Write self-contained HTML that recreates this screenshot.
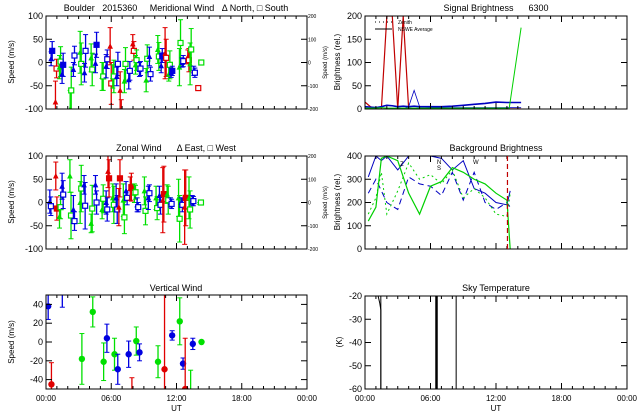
<!DOCTYPE html>
<html><head><meta charset="utf-8"><style>
html,body{margin:0;padding:0;background:#fff;width:640px;height:420px;overflow:hidden}
svg{display:block;position:absolute;left:0;top:0;overflow:hidden;font-family:"Liberation Sans",sans-serif}
text{white-space:pre}
</style></head><body>
<svg id="c" width="640" height="420" viewBox="0 0 640 420"></svg>
<script>
// ---------- data ----------
const merT   = [0.52,0.92,1.29,1.53,2.27,2.57,3.19,3.59,4.2,4.6,5.21,5.58,5.95,6.19,6.56,6.87,7.26,7.66,8.03,8.28,8.64,9.26,9.56,10.33,10.64,11.0,11.34,11.56,12.32,12.57,13.09,13.3,13.64];
const merCol = ['b','r','g','b','g','b','g','b','g','b','g','b','r','g','b','r','g','b','r','g','b','g','b','g','b','r','g','b','g','b','r','g','b'];
const merN   = [8,-85,-10,-25,-100,-15,22,-22,10,-2,-30,-8,35,-30,-30,-60,-40,-37,40,-5,-15,-38,13,28,-7,20,-25,-22,-10,0,12,-3,-18];
const merNe  = [15,45,25,20,40,15,45,20,30,20,30,25,40,25,20,40,25,20,20,20,15,25,20,30,15,55,15,10,40,10,15,45,10];
const merS   = [25,-13,2,-5,-60,15,-3,25,-15,38,-30,7,-45,-30,-3,-110,-3,-18,25,5,-13,8,-25,13,15,10,-5,-18,42,3,5,28,-22];
const merSe  = [20,20,32,25,50,20,45,35,35,27,30,20,45,35,25,30,35,20,20,22,15,30,15,30,15,40,30,10,50,12,25,45,10];
const merXT  = [14.0,14.28]; const merXV=[-55,0]; const merXC=['r','g'];
const zonT   = [0.4,0.95,1.29,1.53,2.25,2.57,3.19,3.55,4.2,4.6,5.21,5.58,5.75,6.19,6.5,6.75,7.16,7.41,7.8,8.18,8.43,9.1,9.46,10.17,10.48,10.79,11.19,11.5,12.24,12.49,12.8,13.2,13.5,14.2];
const zonCol = ['b','r','g','b','g','b','g','b','g','b','g','b','r','g','b','r','g','b','r','g','b','g','b','g','b','r','g','b','g','b','r','g','b','g'];
const zonE   = [2,57,-30,35,57,-15,0,38,-45,38,-15,0,67,10,10,-10,5,25,30,20,-5,25,10,10,15,5,18,0,10,0,-10,10,5,0];
const zonEe  = [25,30,25,28,35,30,45,20,20,20,20,25,35,30,30,40,35,20,25,20,15,30,25,25,20,70,20,10,40,10,80,45,10,0];
const zonW   = [-8,-13,-10,17,-28,-40,30,-7,-13,0,8,-15,52,-5,-15,52,-32,10,33,22,-10,-18,20,-12,-5,18,5,-3,-35,-5,10,-15,3,0];
const zonWe  = [20,25,25,30,50,20,50,50,50,25,30,25,40,40,30,40,35,15,30,15,10,30,18,25,20,60,30,10,50,15,60,40,10,0];
const verT   = [0.2,0.5,1.5,3.3,4.3,5.3,5.6,6.3,6.6,7.6,7.9,8.3,8.6,10.3,10.9,11.6,12.3,12.6,12.8,13.3,13.5,14.3];
const verV   = [38,-45,55,-18,32,-21,4,-13,-29,-13,-60,1,-11,-21,-29,7,22,-23,-50,-60,-2,0];
const verE   = [14,23,18,27,16,20,15,17,16,14,22,15,9,17,80,5,25,6,54,30,6,0];
const verCol = ['b','r','b','g','g','g','b','g','b','b','r','g','b','g','r','b','g','b','r','g','b','g'];
const sigT   = [0,0.5,1,1.5,2,2.5,3,3.5,4,4.5,5,6,7,8,9,10,11,12,13,13.2,14.3];
const sigRed = [15,5,0,0,200,200,0,0,0,0,0,0,0,0,0,0,0,0,0,0,0];
const sigRed2= [0,0,0,0,0,0,0,200,0,0,0,0,0,0,0,0,0,0,0,0,0];
const sigBlue= [5,4,3,5,8,7,5,6,5,6,5,5,5,6,8,10,12,15,14,14,14];
const sigBlue2=[0,0,0,0,0,0,0,0,5,40,5,3,3,3,3,3,3,3,3,3,3];
const sigGreen=[2,2,2,3,2,2,2,2,2,2,2,2,2,2,2,2,2,2,2,0,175];
const bgT    = [0.3,1,1.5,2,3,4,5,6,7,8,9,10,11,12,13,13.3];
const bgA    = [310,400,380,400,340,400,400,400,390,340,380,260,240,200,190,250];
const bgB    = [240,300,250,200,170,310,280,270,230,330,210,330,200,170,200,180];
const bgC    = [120,180,390,400,380,240,150,270,290,350,330,300,280,240,210,0];
const bgD    = [150,220,330,150,250,370,300,320,280,340,220,260,220,150,140,240];
const skyX   = [1.45,6.55,8.35];
// ---------- helpers ----------
const svg=document.getElementById('c');const NS='http://www.w3.org/2000/svg';
const COL={r:'#e00000',g:'#00e000',b:'#0000e0'};
function el(tag,attrs,parent){const e=document.createElementNS(NS,tag);for(const k in attrs)e.setAttribute(k,attrs[k]);(parent||svg).appendChild(e);return e;}
function txt(x,y,s,size,anchor,rot){const e=el('text',{x:x,y:y,'font-size':size,'text-anchor':anchor||'middle',fill:'#000'});if(rot)e.setAttribute('transform','rotate(-90 '+x+' '+y+')');e.textContent=s;return e;}
function panel(name,x0,x1,y0,y1,ymin,ymax){
  const g=el('g',{});
  const clip=el('clipPath',{id:'cl-'+name},g);el('rect',{x:x0,y:y0,width:x1-x0,height:y1-y0},clip);
  const p={g:g,x:h=>x0+(h/24)*(x1-x0),y:v=>y1-(v-ymin)/(ymax-ymin)*(y1-y0),x0,x1,y0,y1,
    d:el('g',{'clip-path':'url(#cl-'+name+')'},g)};
  el('rect',{x:x0,y:y0,width:x1-x0,height:y1-y0,fill:'none',stroke:'#000','stroke-width':1},g);
  for(let h=0;h<=24;h++){const xx=p.x(h);const L=h%6==0?6:3;
    el('line',{x1:xx,x2:xx,y1:y1,y2:y1-L,stroke:'#000'},g);el('line',{x1:xx,x2:xx,y1:y0,y2:y0+L,stroke:'#000'},g);}
  return p;}
function yticks(p,vals){vals.forEach(v=>{const yy=p.y(v);
  el('line',{x1:p.x0,x2:p.x0+6,y1:yy,y2:yy,stroke:'#000'},p.g);el('line',{x1:p.x1,x2:p.x1-6,y1:yy,y2:yy,stroke:'#000'},p.g);
  const t=txt(p.x0-3,yy+3,String(v),9,'end');});}
function rightAxis(p,vals){vals.forEach(v=>{const yy=p.y(v/2);const t=txt(p.x1+1,yy+2,String(v),5,'start');});
  const a=txt(p.x1+20,(p.y0+p.y1)/2,'Speed (m/s)',6,'middle',true);}
function xlabels(p){['00:00','06:00','12:00','18:00','00:00'].forEach((s,i)=>{const t=txt(p.x(i*6),p.y1+12,s,8,'middle');});
  const u=txt((p.x0+p.x1)/2,p.y1+22,'UT',8);}
function errbar(p,t,v,e,c){const xx=p.x(t),a=p.y(v+e),b=p.y(v-e);
  const l=el('line',{x1:xx,x2:xx,y1:a,y2:b,stroke:c,'stroke-width':1.3},p.d);
  
  el('line',{x1:xx-2.5,x2:xx+2.5,y1:a,y2:a,stroke:c},p.d);el('line',{x1:xx-2.5,x2:xx+2.5,y1:b,y2:b,stroke:c},p.d);}
function sq(p,t,v,c,fill){const r=el('rect',{x:p.x(t)-2.5,y:p.y(v)-2.5,width:5,height:5,fill:fill?c:'#fff',stroke:c,'stroke-width':1.2},p.d);
  }
function tri(p,t,v,c){const x=p.x(t),y=p.y(v);const r=el('polygon',{points:(x-2)+','+(y+2)+' '+(x+2)+','+(y+2)+' '+x+','+(y-2),fill:c,stroke:c},p.d);
  }
function line(p,T,V,c,dash,w,name){const pts=T.map((t,i)=>p.x(t)+','+p.y(V[i])).join(' ');
  const l=el('polyline',{points:pts,fill:'none',stroke:c,'stroke-width':w||1},p.d);if(dash)l.setAttribute('stroke-dasharray',dash);
  }
// ---------- meridional ----------
const P1=panel('meridional-wind-panel',46,307,16,109,-100,100);
yticks(P1,[100,50,0,-50,-100]);rightAxis(P1,[200,100,0,-100,-200]);
let t1=txt(176,11,'Boulder   2015360     Meridional Wind   \u0394 North, \u25A1 South',9);
let a1=txt(14,62,'Speed (m/s)',8,'middle',true);
merT.forEach((t,i)=>{const c=COL[merCol[i]];errbar(P1,t-0.05,merN[i],merNe[i],c);tri(P1,t-0.05,merN[i],c);errbar(P1,t+0.05,merS[i],merSe[i],c);sq(P1,t+0.05,merS[i],c,merCol[i]=='b'&&i%3==0);});
merXT.forEach((t,i)=>sq(P1,t,merXV[i],COL[merXC[i]],false));
// ---------- zonal ----------
const P2=panel('zonal-wind-panel',46,307,156,249,-100,100);
yticks(P2,[100,50,0,-50,-100]);rightAxis(P2,[200,100,0,-100,-200]);
let t2=txt(176,151,'Zonal Wind      \u0394 East, \u25A1 West',9);
let a2=txt(14,202,'Speed (m/s)',8,'middle',true);
zonT.forEach((t,i)=>{const c=COL[zonCol[i]];errbar(P2,t-0.05,zonE[i],zonEe[i],c);tri(P2,t-0.05,zonE[i],c);errbar(P2,t+0.05,zonW[i],zonWe[i],c);sq(P2,t+0.05,zonW[i],c,zonCol[i]=='r');});
// ---------- vertical ----------
const P3=panel('vertical-wind-panel',46,307,295,389,-50,50);
yticks(P3,[40,20,0,-20,-40]);xlabels(P3);
let t3=txt(176,291,'Vertical Wind',9);
let a3=txt(14,342,'Speed (m/s)',8,'middle',true);
verT.forEach((t,i)=>{const c=COL[verCol[i]];errbar(P3,t,verV[i],verE[i],c);const d=el('circle',{cx:P3.x(t),cy:P3.y(verV[i]),r:3.2,fill:c},P3.d);});
// ---------- signal ----------
const P4=panel('signal-brightness-panel',365,627,16,109,0,200);
yticks(P4,[200,150,100,50,0]);
let t4=txt(496,11,'Signal Brightness      6300',9);
let a4=txt(340,62,'Brightness (rel.)',8,'middle',true);
line(P4,sigT,sigRed,'#c00000',null,1.2,'signal-red-line');line(P4,sigT,sigRed2,'#c00000',null,1.2,'signal-red-line-2');
line(P4,sigT,sigBlue,'#0000c0',null,1.6,'signal-blue-line');line(P4,sigT,sigBlue2,'#0000c0',null,0.8,'signal-blue-line-2');
line(P4,sigT,sigGreen,'#00d000',null,1,'signal-green-line');
el('line',{x1:375,x2:392,y1:22,y2:22,stroke:'#000','stroke-dasharray':'1,3'});el('line',{x1:375,x2:392,y1:29,y2:29,stroke:'#000'});
let l1=txt(398,24,'Zenith',5,'start');
let l2=txt(398,31,'NSWE Average',5,'start');
// ---------- background ----------
const P5=panel('background-brightness-panel',365,627,156,249,0,400);
yticks(P5,[400,300,200,100,0]);
let t5=txt(496,151,'Background Brightness',9);
let a5=txt(340,202,'Brightness (rel.)',8,'middle',true);
line(P5,bgT,bgA,'#0000c0',null,1,'background-blue-solid');line(P5,bgT,bgB,'#0000c0','6,4',1,'background-blue-dashed');
line(P5,bgT,bgC,'#00d000',null,1.2,'background-green-solid');line(P5,bgT,bgD,'#00d000','2,3',1,'background-green-dotted');
const rv=el('line',{x1:P5.x(13.05),x2:P5.x(13.05),y1:156,y2:249,stroke:'#c00000','stroke-dasharray':'5,3','stroke-width':1.2});
['Z','N','S','W'].forEach((s,i)=>{const xx=[400,437,437,473][i],yy=[166,164,170,164][i];const t=txt(xx,yy,s,6,'start');});
// ---------- sky ----------
const P6=panel('sky-temperature-panel',365,627,296,389,-60,-20);
yticks(P6,[-20,-30,-40,-50,-60]);xlabels(P6);
let t6=txt(496,291,'Sky Temperature',9);
let a6=txt(342,342,'(K)',8,'middle',true);
line(P6,[1.2,1.35,1.45,1.45],[-20,-23,-26,-60],'#000',null,1,'sky-temp-line');
skyX.forEach((h,i)=>{const l=el('line',{x1:P6.x(h),x2:P6.x(h),y1:296,y2:389,stroke:'#000','stroke-width':i==1?2.5:1},P6.d);});
</script>
</body></html>
